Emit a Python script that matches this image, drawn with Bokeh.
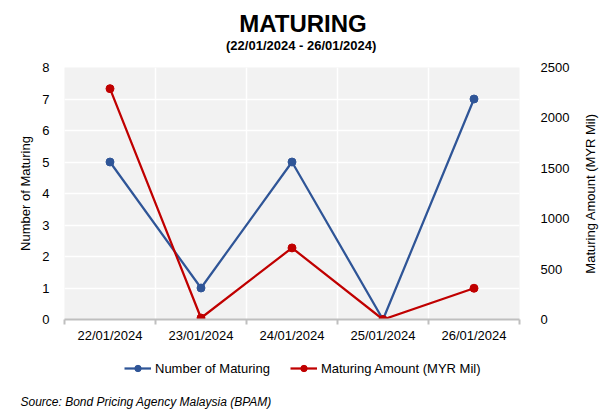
import math
from bokeh.plotting import figure
from bokeh.layouts import column, row
from bokeh.models import (Range1d, LinearAxis, FixedTicker, Legend, LegendItem,
                          Label, ColumnDataSource)
from bokeh.embed import file_html
from bokeh.resources import INLINE

dates = ["22/01/2024", "23/01/2024", "24/01/2024", "25/01/2024", "26/01/2024"]
number_maturing = [5, 1, 5, 0, 7]
amount_maturing = [2290, 15, 710, 0, 310]

title_text = "MATURING"
subtitle_text = "(22/01/2024  - 26/01/2024)"
source_text = "Source: Bond Pricing Agency Malaysia (BPAM)"
left_label = "Number of Maturing"
right_label = "Maturing Amount (MYR Mil)"

FONT = "Liberation Sans"
BLUE = "#2F5597"
RED = "#C00000"
W = 605
STRIP_W = 25
HEAD_H, MAIN_H, FOOT_H = 55, 296, 65


def blank(w, h):
    f = figure(width=w, height=h, output_backend="svg", toolbar_location=None,
               x_range=Range1d(0, w), y_range=Range1d(h, 0),
               min_border=0, x_axis_location=None, y_axis_location=None,
               frame_align=False)
    f.title = None
    f.outline_line_color = None
    f.background_fill_color = "white"
    f.border_fill_color = "white"
    f.xgrid.visible = False
    f.ygrid.visible = False
    return f


# ---------- header ----------
head = blank(W, HEAD_H)
head.add_layout(Label(x=W / 2, y=23, text=title_text, text_font=FONT,
                      text_font_size="24px", text_font_style="bold",
                      text_align="center", text_baseline="middle", text_color="black"))
head.add_layout(Label(x=W / 2, y=45, text=subtitle_text, text_font=FONT,
                      text_font_size="13px", text_font_style="bold",
                      text_align="center", text_baseline="middle", text_color="black"))

# ---------- main chart ----------
xpos = [i + 0.5 for i in range(len(dates))]
src = ColumnDataSource(dict(x=xpos, n=number_maturing, a=amount_maturing))

p = figure(width=W - STRIP_W, height=MAIN_H, output_backend="svg", toolbar_location=None,
           x_range=Range1d(0, len(dates)), y_range=Range1d(0, 8),
           min_border_left=64, min_border_right=61, min_border_top=12,
           min_border_bottom=32, x_axis_location=None, y_axis_location=None,
           frame_align=False)
p.title = None
p.extra_y_ranges = {"amt": Range1d(0, 2500)}
p.outline_line_color = None
p.background_fill_color = "#F2F2F2"
p.border_fill_color = "white"

xax = LinearAxis(ticker=FixedTicker(ticks=xpos, minor_ticks=list(range(len(dates) + 1))))
xax.major_label_overrides = {x: d for x, d in zip(xpos, dates)}
xax.major_tick_line_color = None
xax.major_tick_out = 0
xax.major_tick_in = 0
xax.minor_tick_out = 5
xax.minor_tick_in = 0
xax.minor_tick_line_color = "#BFBFBF"
xax.minor_tick_line_width = 2
xax.axis_line_color = "#BFBFBF"
xax.axis_line_width = 2
xax.major_label_standoff = 3
xax.major_label_text_font = FONT
xax.major_label_text_font_size = "13px"
xax.major_label_text_color = "black"
p.add_layout(xax, "below")

yl = LinearAxis(ticker=FixedTicker(ticks=list(range(0, 9))))
yl.axis_label = left_label
yl.axis_label_text_font = FONT
yl.axis_label_text_font_size = "13px"
yl.axis_label_text_font_style = "normal"
yl.axis_label_text_color = "black"
yl.axis_label_standoff = 6
yl.major_label_text_font = FONT
yl.major_label_text_font_size = "13px"
yl.major_label_text_color = "black"
yl.major_label_standoff = 9
yl.axis_line_color = None
yl.major_tick_line_color = None
yl.minor_tick_line_color = None
p.add_layout(yl, "left")

yr = LinearAxis(y_range_name="amt", ticker=FixedTicker(ticks=list(range(0, 2501, 500))))
yr.major_label_text_font = FONT
yr.major_label_text_font_size = "13px"
yr.major_label_text_color = "black"
yr.major_label_standoff = 15
yr.axis_line_color = None
yr.major_tick_line_color = None
yr.minor_tick_line_color = None
p.add_layout(yr, "right")

p.xgrid.ticker = FixedTicker(ticks=list(range(1, len(dates))))
p.xgrid.grid_line_color = "white"
p.xgrid.grid_line_width = 1.5
p.ygrid.ticker = FixedTicker(ticks=list(range(1, 9)))
p.ygrid.grid_line_color = "white"
p.ygrid.grid_line_width = 1.5

p.line("x", "n", source=src, line_color=BLUE, line_width=2.25)
p.scatter("x", "n", source=src, size=8, fill_color=BLUE, line_color=BLUE)
p.line("x", "a", source=src, y_range_name="amt", line_color=RED, line_width=2.25)
p.scatter("x", "a", source=src, y_range_name="amt", size=8, fill_color=RED, line_color=RED)

# ---------- right axis title strip ----------
strip = blank(STRIP_W, MAIN_H)
strip.add_layout(Label(x=10, y=138, text=right_label, text_font=FONT,
                       text_font_size="13px", angle=math.pi / 2,
                       text_align="center", text_baseline="middle", text_color="black"))

# ---------- footer (legend + source) ----------
foot = blank(W, FOOT_H)
foot.extra_y_ranges = {"off": Range1d(-1000, -900)}
fl1 = foot.line("x", "n", source=src, y_range_name="off", line_color=BLUE, line_width=2.25)
fc1 = foot.scatter("x", "n", source=src, y_range_name="off", size=8,
                   fill_color=BLUE, line_color=BLUE)
fl2 = foot.line("x", "a", source=src, y_range_name="off", line_color=RED, line_width=2.25)
fc2 = foot.scatter("x", "a", source=src, y_range_name="off", size=8,
                   fill_color=RED, line_color=RED)

legend = Legend(items=[LegendItem(label="Number of Maturing", renderers=[fl1, fc1]),
                       LegendItem(label="Maturing Amount (MYR Mil)", renderers=[fl2, fc2])],
                orientation="horizontal", location=(124, 40),
                border_line_color=None, background_fill_alpha=0,
                label_text_font=FONT, label_text_font_size="13px",
                label_text_color="black",
                glyph_width=27, glyph_height=16, label_standoff=4, spacing=20,
                padding=0, margin=0)
foot.add_layout(legend, "center")

foot.add_layout(Label(x=20, y=50, text=source_text, text_font=FONT,
                      text_font_size="12px", text_font_style="italic",
                      text_align="left", text_baseline="middle", text_color="black"))

layout = column(head, row(p, strip, spacing=0), foot, spacing=0)
open("out.html", "w").write(file_html(layout, INLINE))
